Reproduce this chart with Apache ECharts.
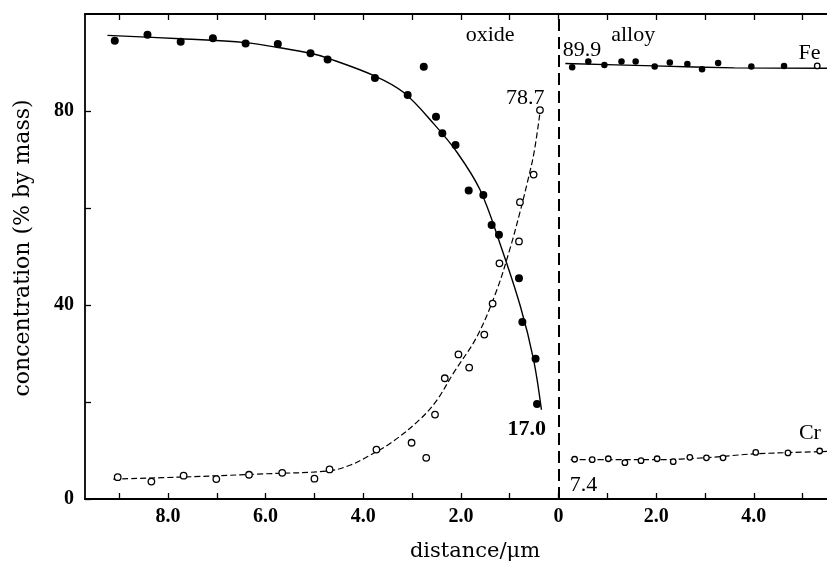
<!DOCTYPE html>
<html>
<head>
<meta charset="utf-8">
<script src="https://cdn.jsdelivr.net/npm/echarts@6/dist/echarts.min.js"></script>
<style>
  html, body { margin: 0; padding: 0; background: #fff; }
  #chart { width: 827px; height: 563px; }
</style>
</head>
<body>
<div id="chart"></div>
<script>
// oxide side: distance measured leftwards from the interface, drawn at -d
const oxideFeDist = [9.09, 8.42, 7.74, 7.08, 6.41, 5.75, 5.08, 4.73, 3.76, 3.09, 2.76, 2.51, 2.38, 2.11, 1.84, 1.54, 1.37, 1.22, 0.81, 0.74, 0.47, 0.44];
const oxideFeConc = [94.5, 95.7, 94.3, 95.0, 93.9, 93.8, 91.9, 90.6, 86.8, 83.3, 89.1, 78.8, 75.4, 73.0, 63.6, 62.7, 56.5, 54.5, 45.5, 36.5, 28.9, 19.6];
const oxideCrDist = [9.03, 8.34, 7.68, 7.01, 6.34, 5.66, 5.00, 4.69, 3.73, 3.01, 2.71, 2.53, 2.33, 2.05, 1.83, 1.52, 1.35, 1.21, 0.81, 0.79, 0.51, 0.38];
const oxideCrConc = [4.5, 3.6, 4.8, 4.1, 5.0, 5.4, 4.2, 6.1, 10.2, 11.6, 8.5, 17.4, 24.9, 29.8, 27.1, 33.9, 40.3, 48.6, 53.1, 61.2, 66.9, 80.2];

// alloy side
const alloyFeDist = [0.28, 0.61, 0.94, 1.29, 1.58, 1.97, 2.28, 2.64, 2.94, 3.27, 3.95, 4.62];
const alloyFeConc = [89.0, 90.2, 89.5, 90.2, 90.2, 89.2, 90.0, 89.7, 88.6, 89.9, 89.2, 89.3];
const alloyFeEndDist = [5.30];
const alloyFeEndConc = [89.3];
const alloyCrDist = [0.33, 0.69, 1.02, 1.36, 1.69, 2.02, 2.35, 2.69, 3.03, 3.37, 4.04, 4.70, 5.35];
const alloyCrConc = [8.2, 8.1, 8.3, 7.5, 7.9, 8.3, 7.7, 8.6, 8.5, 8.5, 9.6, 9.5, 9.9];

// fitted curves
const feOxideCurveDist = [9.24, 7.74, 6.41, 5.75, 5.08, 4.73, 3.76, 3.17, 2.55, 2.08, 1.61, 1.20, 0.78, 0.51, 0.35];
const feOxideCurveConc = [95.6, 94.9, 94.1, 93.1, 91.9, 90.9, 87.2, 83.8, 77.3, 71.5, 63.8, 52.7, 39.7, 28.7, 18.4];
const crOxideCurveDist = [9.12, 7.5, 6.0, 4.7, 4.26, 3.92, 3.4, 2.83, 2.49, 2.15, 1.67, 1.26, 0.98, 0.78, 0.64, 0.5, 0.37];
const crOxideCurveConc = [4.1, 4.6, 5.2, 5.8, 7.0, 8.7, 11.8, 16.5, 20.4, 26.0, 33.5, 43.2, 52.1, 59.5, 65.2, 71.5, 80.4];
const feAlloyCurveDist = [0.14, 1.96, 3.6, 5.5];
const feAlloyCurveConc = [89.8, 89.3, 88.9, 88.8];
const crAlloyCurveDist = [0.25, 2.0, 3.0, 4.0, 5.5];
const crAlloyCurveConc = [8.1, 8.1, 8.5, 9.3, 9.8];

// axis ticks
const xTickValues = [-9, -8, -7, -6, -5, -4, -3, -2, -1, 0, 1, 2, 3, 4, 5];
const xLabelValues = [-8, -6, -4, -2, 0, 2, 4];
const yTickValues = [0, 20, 40, 60, 80];
const yLabelValues = [0, 40, 80];

// text annotations [x, concentration, text]
const notes = [
  [-1.40, 95.7, 'oxide'],
  [1.53, 95.7, 'alloy'],
  [0.48, 92.6, '89.9'],
  [5.14, 91.9, 'Fe'],
  [-0.68, 82.6, '78.7'],
  [-0.65, 14.4, '17.0'],
  [5.15, 13.5, 'Cr'],
  [0.51, 2.9, '7.4']
];

const serif = '"Liberation Serif", "Times New Roman", serif';
const wideSerif = '"DejaVu Serif", serif';
const ink = '#000';

function pairs(dist, conc, sign) {
  return dist.map((d, i) => [sign * d, conc[i]]);
}

const myChart = echarts.init(document.getElementById('chart'), null, { renderer: 'canvas' });

function xAxisBase(pos) {
  return {
    type: 'value',
    position: pos,
    min: -9.7,
    max: 5.5,
    axisLine: { show: true, onZero: false, lineStyle: { color: ink, width: 1.8 } },
    axisTick: { show: true, inside: true, length: 6, customValues: xTickValues, lineStyle: { color: ink, width: 1.3 } },
    axisLabel: {
      show: pos === 'bottom',
      customValues: xLabelValues,
      formatter: v => v === 0 ? '0' : Math.abs(v).toFixed(1),
      fontFamily: serif, fontWeight: 'bold', fontSize: 20, color: ink, margin: 8
    },
    splitLine: { show: false }
  };
}

const option = {
  animation: false,
  backgroundColor: '#fff',
  grid: { left: 85, right: 0, top: 14, bottom: 64, containLabel: false, outerBoundsMode: 'none' },
  xAxis: [xAxisBase('bottom'), xAxisBase('top')],
  yAxis: {
    type: 'value',
    min: 0,
    max: 100,
    interval: 20,
    axisLine: { show: true, onZero: false, lineStyle: { color: ink, width: 1.8 } },
    axisTick: { show: true, inside: true, length: 6, customValues: yTickValues, lineStyle: { color: ink, width: 1.3 } },
    axisLabel: { customValues: yLabelValues, fontFamily: serif, fontWeight: 'bold', fontSize: 20, color: ink, margin: 11 },
    splitLine: { show: false }
  },
  graphic: [
    {
      type: 'text', x: 23, y: 248, rotation: Math.PI / 2,
      style: { text: 'concentration (% by mass)', font: '22px ' + wideSerif, fill: ink, textAlign: 'center', textVerticalAlign: 'middle' }
    },
    {
      type: 'text', x: 475, y: 552,
      style: { text: 'distance/μm', font: '21px ' + wideSerif, fill: ink, textAlign: 'center', textVerticalAlign: 'middle' }
    }
  ],
  series: [
    {
      type: 'line', smooth: 0.35, symbol: 'none',
      data: pairs(feOxideCurveDist, feOxideCurveConc, -1),
      lineStyle: { color: ink, width: 1.4 }, z: 2
    },
    {
      type: 'line', smooth: 0.35, symbol: 'none',
      data: pairs(crOxideCurveDist, crOxideCurveConc, -1),
      lineStyle: { color: ink, width: 1.2, type: [6, 3] }, z: 2
    },
    {
      type: 'line', smooth: 0.3, symbol: 'none',
      data: pairs(feAlloyCurveDist, feAlloyCurveConc, 1),
      lineStyle: { color: ink, width: 1.4 }, z: 2
    },
    {
      type: 'line', smooth: 0.3, symbol: 'none',
      data: pairs(crAlloyCurveDist, crAlloyCurveConc, 1),
      lineStyle: { color: ink, width: 1.2, type: [6, 3] }, z: 2,
      markLine: {
        silent: true, symbol: ['none', 'none'], label: { show: false },
        lineStyle: { color: ink, width: 2, type: [12, 6] },
        data: [{ xAxis: 0 }]
      }
    },
    {
      type: 'scatter', symbol: 'circle', symbolSize: 8,
      data: pairs(oxideFeDist, oxideFeConc, -1),
      itemStyle: { color: ink, opacity: 1 }, z: 4
    },
    {
      type: 'scatter', symbol: 'circle', symbolSize: 6.5,
      data: pairs(alloyFeDist, alloyFeConc, 1),
      itemStyle: { color: ink, opacity: 1 }, z: 4
    },
    {
      type: 'scatter', symbol: 'circle', symbolSize: 6.5,
      data: pairs(oxideCrDist, oxideCrConc, -1),
      itemStyle: { color: '#fff', borderColor: ink, borderWidth: 1.3, opacity: 1 }, z: 4
    },
    {
      type: 'scatter', symbol: 'circle', symbolSize: 5.5,
      data: pairs(alloyCrDist, alloyCrConc, 1).concat(pairs(alloyFeEndDist, alloyFeEndConc, 1)),
      itemStyle: { color: '#fff', borderColor: ink, borderWidth: 1.3, opacity: 1 }, z: 4
    },
    {
      type: 'scatter', symbolSize: 0, silent: true, z: 5,
      itemStyle: { opacity: 1 },
      data: notes.map(n => ({
        value: [n[0], n[1]],
        label: {
          show: true, position: 'inside', formatter: n[2],
          fontFamily: serif, fontSize: 22, color: ink,
          fontWeight: n[2] === '17.0' ? 'bold' : 'normal'
        }
      }))
    }
  ]
};

myChart.setOption(option);
window.addEventListener('resize', myChart.resize);
</script>
</body>
</html>
